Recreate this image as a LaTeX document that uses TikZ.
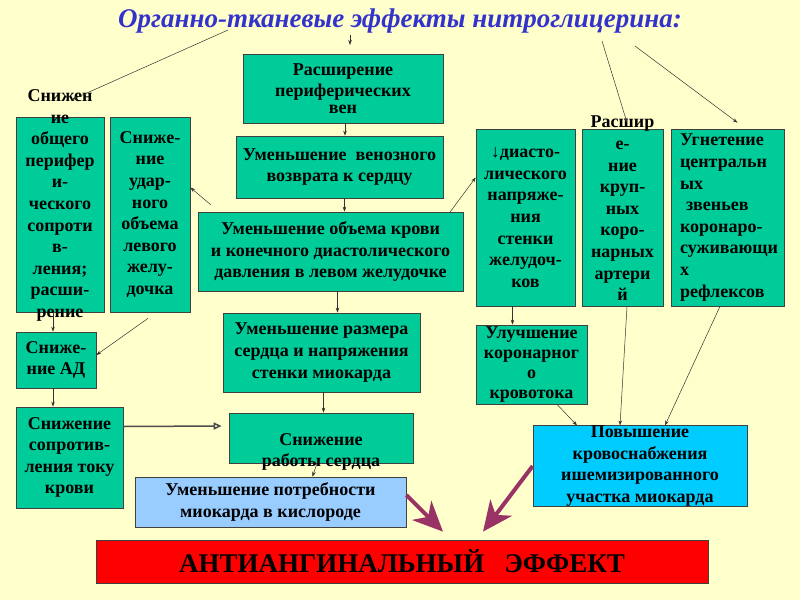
\documentclass[tikz,border=0pt]{standalone}
\usepackage{fontspec}
\setmainfont{Liberation Serif}
\usetikzlibrary{arrows.meta}
\definecolor{fonyellow}{HTML}{FFFFCC}
\definecolor{boxgreen}{HTML}{00CC99}
\definecolor{boxblue}{HTML}{99CCFF}
\definecolor{boxcyan}{HTML}{00CCFF}
\definecolor{titleblue}{HTML}{3333CC}
\definecolor{plum}{HTML}{993366}
\tikzstyle{every node}=[font=\bfseries\fontsize{18}{21.6}\selectfont]
\tikzstyle{box}=[draw=black!75,line width=0.7pt,fill=boxgreen,align=center,inner sep=0pt]
\tikzstyle{txt}=[align=center,inner sep=0pt]
\tikzstyle{arr}=[-{Stealth[length=5pt,width=3.5pt]},line width=0.5pt,draw=black!80]
\tikzstyle{arrwide}=[-{Triangle[open,length=8pt,width=7pt]},line width=1.5pt,draw=black!70]
\tikzstyle{bigarr}=[-{Stealth[length=30pt,width=27pt,inset=9pt]},line width=4pt,draw=plum]

\begin{document}
\begin{tikzpicture}[x=1pt,y=-1pt]
%background
	\fill[fonyellow] (0,0) rectangle (800,600);
	\useasboundingbox (0,0) rectangle (800,600);
	\node[txt,font=\bfseries\itshape\fontsize{27}{30}\selectfont,text=titleblue] (title) at (400,21) {Органно-тканевые эффекты нитроглицерина:};
%central column
	\node[box,minimum width=200,minimum height=69] (veny) at (343,88.5) {Расширение\\периферических\\[-5pt]вен};
	\node[box,minimum width=207,minimum height=62] (vozvrat) at (339.5,167) {Уменьшение~ венозного\\возврата к сердцу};
	\node[box,minimum width=265,minimum height=79] (obyem) at (330.5,251.5) {Уменьшение объема крови\\и конечного диастолического\\давления в левом желудочке};
	\node[box,minimum width=197,minimum height=79] (razmer) at (321.5,352.5) {Уменьшение размера\\сердца и напряжения\\стенки миокарда};
	\node[box,minimum width=184,minimum height=50] (rabota) at (321,438) {};
	\node[txt] (rabotaT) at (321,452) {Снижение\\работы сердца};
	\node[box,fill=boxblue,minimum width=271,minimum height=50] (potreb) at (270.5,502) {Уменьшение потребности\\миокарда в кислороде};
%left column
	\node[box,minimum width=88,minimum height=195] (opss) at (60,214.5) {};
	\node[txt] (opssT) at (60,205.5) {Снижен\\ие\\общего\\перифер\\и-\\ческого\\сопроти\\в-\\ления;\\расши-\\рение};
	\node[box,minimum width=80,minimum height=195] (udar) at (150,214.5) {Сниже-\\ние\\удар-\\ного\\объема\\левого\\желу-\\дочка};
	\node[box,minimum width=80,minimum height=56] (ad) at (56,360) {Сниже-\\ние АД};
	\node[box,minimum width=107,minimum height=101] (soprot) at (69.5,457.5) {Снижение\\сопротив-\\ления току\\крови};
%right column
	\node[box,minimum width=99,minimum height=177] (diast) at (525.5,217.5) {↓диасто-\\лического\\напряже-\\ния\\стенки\\желудоч-\\ков};
	\node[box,minimum width=81,minimum height=177] (krup) at (622.5,217.5) {};
	\node[txt] (krupT) at (622.5,208.5) {Расшир\\е-\\ние\\круп-\\ных\\коро-\\нарных\\артери\\й};
	\node[box,minimum width=113,minimum height=177,text width=95,align=left] (ugnet) at (727.5,217.5) {Угнетение\\центральн\\ых\\\ звеньев\\коронаро-\\суживающи\\х\\рефлексов};
	\node[box,minimum width=111,minimum height=79,font=\bfseries\fontsize{18}{20}\selectfont] (uluch) at (531.5,364.5) {Улучшение\\коронарног\\о\\кровотока};
	\node[box,fill=boxcyan,minimum width=214,minimum height=80] (povysh) at (640,466) {Повышение\\кровоснабжения\\ишемизированного\\участка миокарда};
	\node[box,fill=red,minimum width=612,minimum height=43,font=\bfseries\fontsize{27}{30}\selectfont] (effekt) at (402,561.5) {АНТИАНГИНАЛЬНЫЙ\ \ \ ЭФФЕКТ};
%arrows from the title
	\coordinate (t1) at (228,30);
	\coordinate (t2) at (350,35);
	\coordinate (t3) at (602,41);
	\coordinate (t4) at (635,46);
	\draw[arr] (t1) -- ([xshift=12pt,yshift=17pt]opss.north);
	\draw[arr] (t2) -- ++(0,10);
	\draw[arr] (t3) -- ([xshift=4.5pt,yshift=6pt]krup.north);
	\draw[arr] (t4) -- ([xshift=10pt,yshift=6pt]ugnet.north);
%chain
	\draw[arr] ([xshift=2pt]veny.south) -- ([xshift=2pt]veny.south |- vozvrat.north);
	\draw[arr] ([xshift=5pt]vozvrat.south) -- ([xshift=5pt]vozvrat.south |- obyem.north);
	\draw[arr] ([xshift=7pt]obyem.south) -- ([xshift=7pt]obyem.south |- razmer.north);
	\draw[arr] ([xshift=2pt]razmer.south) -- ([xshift=2pt]razmer.south |- rabota.north);
	\draw[arr] ([xshift=-4pt]rabota.south) -- ([xshift=42pt]potreb.north);
	\draw[arr] ([xshift=13pt,yshift=7pt]obyem.north west) -- ([yshift=27pt]udar.east);
	\draw[arr] ([xshift=-13pt]obyem.north east) -- ([yshift=40pt]diast.west);
	\draw[arr] ([xshift=-7pt]opss.south) -- ([xshift=-3pt]ad.north);
	\draw[arr] ([xshift=-2pt,yshift=-6pt]udar.south) -- ([yshift=5pt]ad.east);
	\draw[arr] ([xshift=-3pt]ad.south) -- ([xshift=-3pt]ad.south |- soprot.north);
	\draw[arrwide] ([yshift=31pt]soprot.east) -- ([xshift=-7pt,yshift=12pt]rabota.west);
	\draw[arr] ([xshift=-13pt]diast.south) -- ([xshift=-13pt]diast.south |- uluch.north);
	\draw[arr] ([xshift=25.5pt]uluch.south) -- ([xshift=-63pt]povysh.north);
	\draw[arr] ([xshift=4.5pt]krup.south) -- ([xshift=-20pt]povysh.north);
	\draw[arr] ([xshift=-7.5pt]ugnet.south) -- ([xshift=25pt]povysh.north);
%to the effect
	\draw[bigarr] ([yshift=7pt]potreb.east) -- ([xshift=41pt,yshift=8pt]effekt.north);
	\draw[bigarr] (povysh.west) -- ([xshift=81pt,yshift=8pt]effekt.north);
\end{tikzpicture}
\end{document}
